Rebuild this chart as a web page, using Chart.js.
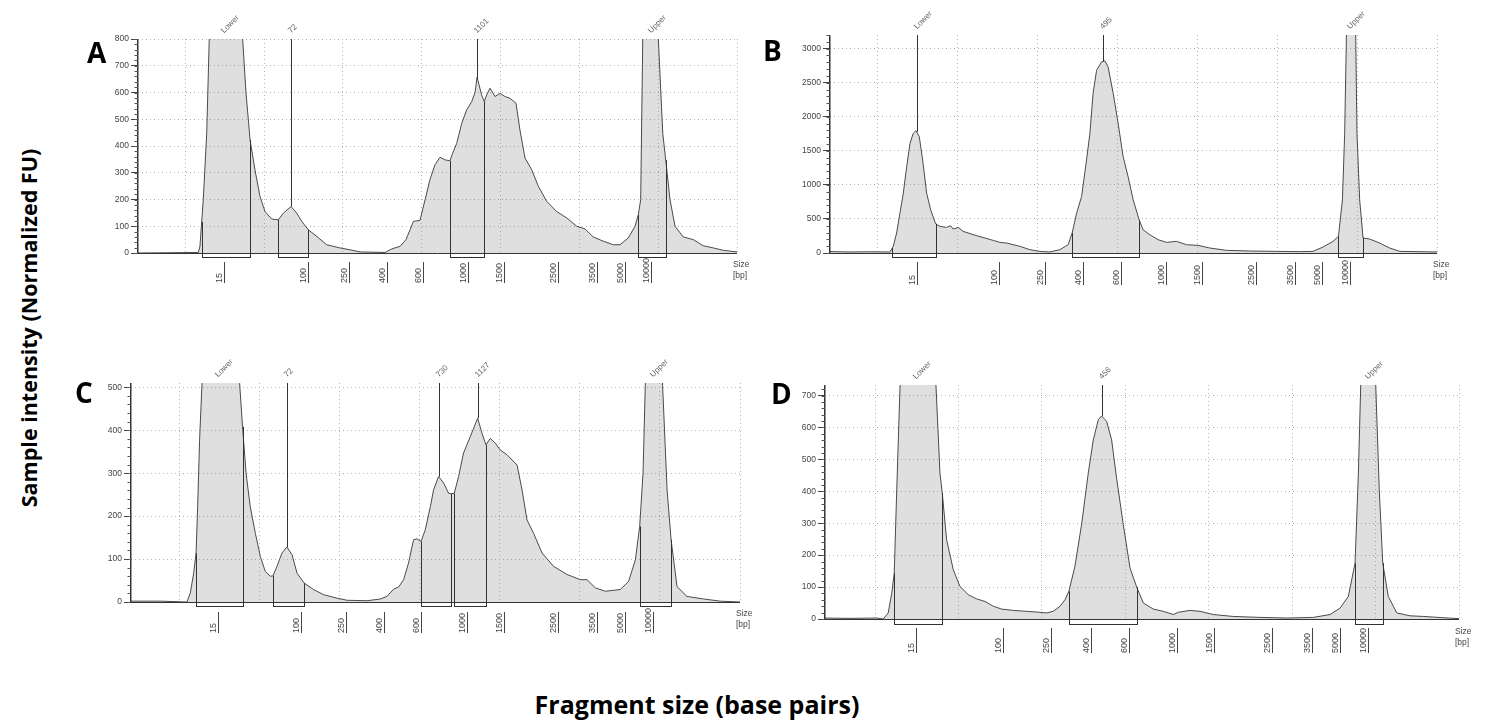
<!DOCTYPE html>
<html><head><meta charset="utf-8">
<script src="https://cdn.jsdelivr.net/npm/chart.js@4.4.0/dist/chart.umd.min.js"></script>
<style>
html,body{margin:0;padding:0;background:#fff}
body{width:1485px;height:722px;position:relative;overflow:hidden}
canvas{position:absolute}
.t{position:absolute;font-family:'Open Sans',sans-serif;font-weight:700;color:#000;white-space:nowrap;line-height:30px}
.letter{font-size:28px}
.title{width:700px;text-align:center}
</style></head><body>
<script>
// ---------------- DATA (migration time in s, fluorescence in normalized FU) ----------------
const ladderLabels = ['15','100','250','400','600','1000','1500','2500','3500','5000','10000'];

// Panel A
const curveA = [[17.00,0],[19.03,1],[20.83,2],[20.93,25],[21.14,199],[21.36,448],[21.52,800],[21.76,1150],[22.58,1700],[23.34,1100],[23.64,800],[23.85,600],[24.11,423],[24.42,311],[24.74,211],[25.06,155],[25.48,127],[25.90,124],[26.22,149],[26.71,174],[27.07,149],[27.39,118],[27.80,87],[28.34,62],[28.97,31],[29.81,19],[30.45,12],[31.08,4],[32.67,2],[33.09,15],[33.62,25],[34.00,50],[34.26,87],[34.47,118],[34.89,122],[35.21,199],[35.52,274],[35.84,330],[36.16,358],[36.48,348],[36.79,345],[36.96,373],[37.22,410],[37.54,485],[37.85,535],[38.17,566],[38.38,600],[38.51,657],[38.80,591],[38.97,566],[39.12,591],[39.33,616],[39.65,585],[39.97,597],[40.28,585],[40.60,578],[40.98,560],[41.23,460],[41.55,355],[41.98,311],[42.40,249],[42.93,193],[43.56,155],[44.20,131],[44.83,100],[45.36,90],[45.88,60],[46.52,44],[47.15,31],[47.58,31],[48.10,56],[48.53,100],[48.74,143],[48.89,199],[49.02,800],[49.16,1300],[49.48,1900],[49.80,1400],[50.01,800],[50.29,448],[50.50,336],[50.75,199],[51.07,100],[51.59,60],[52.23,50],[52.86,27],[53.50,19],[54.13,10],[55.00,4]];
const ladderA = [22.46,27.80,30.40,32.78,35.10,37.95,40.24,43.63,46.10,47.90,49.54];
const peakTimeA = [22.46,26.71,38.49,49.54];
const peakLabelA = ['Lower','72','1101','Upper'];
const regionsA = [[21.04,24.11],[25.90,27.80],[36.79,38.97],[48.74,50.48]];
const yTicksA = [0,100,200,300,400,500,600,700,800];

// Panel B
const curveB = [[17.00,20],[18.25,15],[19.50,18],[20.75,15],[20.96,98],[21.17,293],[21.38,585],[21.59,878],[21.80,1268],[22.01,1610],[22.21,1756],[22.38,1795],[22.59,1707],[22.80,1366],[23.05,878],[23.30,634],[23.61,429],[23.88,390],[24.30,376],[24.55,400],[24.71,351],[25.03,376],[25.34,317],[26.18,254],[27.22,185],[27.64,156],[28.06,146],[28.89,98],[29.51,49],[30.14,24],[30.77,15],[31.39,49],[31.91,122],[32.16,293],[32.44,585],[32.75,829],[33.06,1366],[33.27,1756],[33.47,2341],[33.69,2683],[34.00,2805],[34.21,2820],[34.41,2732],[34.73,2341],[35.04,1902],[35.35,1415],[35.66,1122],[35.98,780],[36.35,488],[36.60,341],[37.02,268],[37.54,195],[38.07,156],[38.69,171],[39.32,122],[40.04,112],[40.78,73],[41.82,39],[43.28,29],[44.95,24],[46.41,20],[47.24,24],[47.87,88],[48.49,171],[48.83,244],[49.08,780],[49.22,1756],[49.33,3200],[49.60,4200],[49.91,3200],[49.99,1756],[50.16,780],[50.37,220],[50.79,205],[51.41,146],[52.04,73],[52.67,24],[55.00,15]];
const ladderB = [22.42,27.59,30.45,32.85,35.21,38.02,40.26,43.70,46.10,47.83,49.54];
const peakTimeB = [22.42,34.10,49.54];
const peakLabelB = ['Lower','495','Upper'];
const regionsB = [[20.90,23.61],[32.16,36.35],[48.83,50.37]];
const yTicksB = [0,500,1000,1500,2000,2500,3000];

// Panel C
const curveC = [[17.00,2],[18.83,2],[20.49,0],[20.70,21],[20.91,67],[21.06,114],[21.16,222],[21.28,377],[21.43,508],[21.64,800],[22.57,1400],[23.51,800],[23.78,508],[23.96,408],[24.18,300],[24.44,222],[24.76,160],[25.07,106],[25.38,71],[25.69,60],[25.86,61],[26.11,83],[26.42,114],[26.73,128],[27.05,110],[27.36,67],[27.81,44],[28.39,29],[29.02,17],[29.85,9],[30.48,4],[31.73,3],[32.56,7],[32.97,13],[33.39,30],[33.70,35],[34.01,52],[34.32,91],[34.63,145],[34.85,147],[35.10,141],[35.36,168],[35.68,222],[35.88,261],[36.19,292],[36.51,277],[36.82,253],[36.97,252],[37.17,253],[37.44,292],[37.75,347],[38.17,385],[38.63,428],[38.90,393],[39.15,366],[39.42,381],[39.73,370],[40.04,354],[40.46,343],[41.09,319],[41.40,261],[41.71,191],[42.12,160],[42.65,114],[43.37,83],[44.21,64],[45.04,52],[45.45,52],[45.97,33],[46.60,25],[47.53,29],[48.05,48],[48.47,98],[48.74,176],[48.95,300],[49.09,505],[49.28,800],[49.65,1000],[50.03,700],[50.17,505],[50.45,261],[50.70,145],[51.07,36],[51.69,13],[52.73,7],[53.77,2],[55.00,0]];
const ladderC = [22.43,27.61,30.42,32.76,35.10,37.97,40.25,43.64,46.08,47.84,49.55];
const peakTimeC = [22.43,26.73,36.19,38.63,49.55];
const peakLabelC = ['Lower','72','730','1127','Upper'];
const regionsC = [[21.06,23.96],[25.84,27.81],[35.10,36.97],[37.13,39.15],[48.74,50.70]];
const yTicksC = [0,100,200,300,400,500];

// Panel D
const curveD = [[17.00,3],[18.50,2],[20.10,3],[20.49,0],[20.79,19],[21.00,81],[21.15,144],[21.30,405],[21.50,733],[21.80,1300],[22.57,2000],[23.29,1200],[23.65,733],[23.89,457],[24.03,394],[24.29,248],[24.69,154],[25.09,102],[25.59,76],[26.09,63],[26.59,55],[27.09,40],[27.59,31],[28.29,27],[29.09,24],[29.89,21],[30.29,19],[30.68,24],[31.09,40],[31.39,61],[31.62,87],[31.98,165],[32.39,300],[32.78,457],[33.08,561],[33.38,624],[33.58,636],[33.88,619],[34.18,561],[34.48,440],[34.88,295],[35.28,160],[35.68,100],[36.08,50],[36.68,31],[37.28,24],[37.88,14],[38.18,21],[38.88,27],[39.48,24],[40.27,14],[41.47,8],[43.07,5],[44.67,3],[46.27,5],[47.27,14],[47.87,34],[48.37,71],[48.77,175],[48.97,457],[49.11,733],[49.55,1200],[50.01,733],[50.22,405],[50.43,175],[50.76,71],[51.27,19],[52.06,10],[52.86,8],[55.00,1]];
const ladderD = [22.45,27.69,30.55,32.94,35.21,38.08,40.33,43.77,46.21,47.87,49.56];
const peakTimeD = [22.45,33.58,49.56];
const peakLabelD = ['Lower','456','Upper'];
const regionsD = [[21.15,24.03],[31.62,35.68],[48.77,50.43]];
const yTicksD = [0,100,200,300,400,500,600,700];

const xGridTimes = [20,25,30,35,40,45,50,55];

// ---------------- LAYOUT ----------------
const panels = [
  {name:'A', curve:curveA, ladder:ladderA, peaks:peakTimeA, peakLabels:peakLabelA, regions:regionsA, yTicks:yTicksA, ymax:800, minor:20,
   L:138, R:737, T:39, B:253, boxH:4, lt0:9, lt1:30, sz:7},
  {name:'B', curve:curveB, ladder:ladderB, peaks:peakTimeB, peakLabels:peakLabelB, regions:regionsB, yTicks:yTicksB, ymax:3200, minor:100,
   L:830, R:1437, T:35, B:253, boxH:4, lt0:9, lt1:32, sz:7},
  {name:'C', curve:curveC, ladder:ladderC, peaks:peakTimeC, peakLabels:peakLabelC, regions:regionsC, yTicks:yTicksC, ymax:510, minor:20,
   L:131, R:740, T:383, B:602, boxH:4, lt0:10, lt1:31, sz:7},
  {name:'D', curve:curveD, ladder:ladderD, peaks:peakTimeD, peakLabels:peakLabelD, regions:regionsD, yTicks:yTicksD, ymax:733, minor:20,
   L:825, R:1459, T:385, B:619, boxH:5, lt0:9, lt1:34, sz:8}
];

function interp(pts, t){
  if (t <= pts[0][0]) return pts[0][1];
  for (let i=1;i<pts.length;i++){
    if (t <= pts[i][0]){
      const [t0,v0]=pts[i-1],[t1,v1]=pts[i];
      return v0+(v1-v0)*(t-t0)/(t1-t0);
    }
  }
  return pts[pts.length-1][1];
}

function bioPlugin(p){
  return {
    id:'bio'+p.name,
    afterDatasetsDraw(chart){
      const ctx=chart.ctx, a=chart.chartArea, x=chart.scales.x, y=chart.scales.y;
      ctx.save();
      ctx.strokeStyle='#333'; ctx.lineWidth=1;
      ctx.beginPath(); ctx.moveTo(a.left, a.bottom+0.5); ctx.lineTo(a.right, a.bottom+0.5); ctx.stroke();
      ctx.lineWidth=1.5;
      ctx.beginPath(); ctx.moveTo(a.left-0.25, a.top); ctx.lineTo(a.left-0.25, a.bottom+1); ctx.stroke();
      ctx.lineWidth=1; ctx.strokeStyle='#555';
      const n=Math.floor(p.ymax/p.minor);
      for(let k=0;k<=n;k++){
        const yy=Math.round(y.getPixelForValue(k*p.minor))+0.5;
        ctx.beginPath(); ctx.moveTo(a.left-3.5, yy); ctx.lineTo(a.left, yy); ctx.stroke();
      }
      ctx.strokeStyle='#333'; ctx.lineWidth=1;
      p.regions.forEach(([s0,s1])=>{
        const x0=Math.round(x.getPixelForValue(s0))+0.5, x1=Math.round(x.getPixelForValue(s1))+0.5;
        ctx.strokeRect(x0, a.bottom+0.5, x1-x0, p.boxH);
        [[x0,s0],[x1,s1]].forEach(([xx,s])=>{
          const yv=Math.max(a.top, y.getPixelForValue(interp(p.curve,s)));
          ctx.beginPath(); ctx.moveTo(xx, a.bottom); ctx.lineTo(xx, yv); ctx.stroke();
        });
      });
      ctx.font='8px "Liberation Sans", Arial, sans-serif';
      ctx.fillStyle='#666'; ctx.textAlign='left'; ctx.textBaseline='middle';
      p.peaks.forEach((t,i)=>{
        const xx=Math.round(x.getPixelForValue(t))+0.5;
        const yv=Math.max(a.top, y.getPixelForValue(interp(p.curve,t)));
        if (yv>a.top+0.5){
          ctx.strokeStyle='#333';
          ctx.beginPath(); ctx.moveTo(xx, a.top); ctx.lineTo(xx, yv); ctx.stroke();
        }
        ctx.save(); ctx.translate(xx-2, a.top-7); ctx.rotate(-Math.PI/4);
        ctx.fillText(p.peakLabels[i], 0, 0); ctx.restore();
      });
      ctx.font='9px "Liberation Sans", Arial, sans-serif';
      ctx.fillStyle='#444'; ctx.strokeStyle='#444';
      p.ladder.forEach((t,i)=>{
        const xx=Math.round(x.getPixelForValue(t))+0.5;
        ctx.beginPath(); ctx.moveTo(xx, a.bottom+p.lt0); ctx.lineTo(xx, a.bottom+p.lt1); ctx.stroke();
        ctx.save(); ctx.translate(xx-4.5, a.bottom+p.lt1); ctx.rotate(-Math.PI/2);
        ctx.textAlign='left'; ctx.textBaseline='middle';
        ctx.fillText(ladderLabels[i], 0, 0); ctx.restore();
      });
      ctx.font='8.5px "Liberation Sans", Arial, sans-serif';
      ctx.textAlign='left'; ctx.textBaseline='top';
      ctx.fillText('Size', a.right-4, a.bottom+p.sz);
      ctx.fillText('[bp]', a.right-4, a.bottom+p.sz+11);
      ctx.restore();
    }
  };
}

const padL=60, padT=40, padR=45, padB=50;
panels.forEach(p=>{
  const cv=document.createElement('canvas');
  const w=p.R-p.L+padL+padR, h=p.B-p.T+padT+padB;
  cv.width=w; cv.height=h;
  cv.style.left=(p.L-padL)+'px'; cv.style.top=(p.T-padT)+'px';
  cv.style.width=w+'px'; cv.style.height=h+'px';
  document.body.appendChild(cv);
  new Chart(cv,{
    type:'line',
    data:{datasets:[{
      data:p.curve.map(([t,v])=>({x:t,y:v})),
      borderColor:'#4a4a4a', borderWidth:1,
      backgroundColor:'rgba(128,128,128,0.25)', fill:'origin',
      pointRadius:0, tension:0
    }]},
    options:{
      responsive:false, animation:false, devicePixelRatio:1,
      layout:{padding:{left:0,top:padT,right:padR,bottom:0}},
      plugins:{legend:{display:false},tooltip:{enabled:false}},
      scales:{
        x:{type:'linear', min:17, max:55,
           afterBuildTicks:s=>{s.ticks=xGridTimes.map(v=>({value:v}));},
           afterFit:s=>{s.height=padB;},
           ticks:{display:false},
           grid:{color:'#b4b4b4', lineWidth:1, drawTicks:false},
           border:{display:false, dash:[1,3]}},
        y:{type:'linear', min:0, max:p.ymax,
           afterBuildTicks:s=>{s.ticks=p.yTicks.map(v=>({value:v}));},
           afterFit:s=>{s.width=padL;},
           ticks:{font:{family:'"Liberation Sans", Arial, sans-serif', size:8.5}, color:'#444', padding:2,
                  callback:v=>String(v)},
           grid:{color:'#b4b4b4', lineWidth:1, drawTicks:true, tickLength:7, tickColor:'#444', tickBorderDash:[]},
           border:{display:false, dash:[1,3]}}
      }
    },
    plugins:[bioPlugin(p)]
  });
});
</script>
<div class="t letter" style="left:87px;top:37px">A</div>
<div class="t letter" style="left:763px;top:35px">B</div>
<div class="t letter" style="left:75px;top:377px">C</div>
<div class="t letter" style="left:771px;top:378px">D</div>
<div class="t title" style="left:-321px;top:313px;font-size:21.5px;transform:rotate(-90deg)">Sample intensity (Normalized FU)</div>
<div class="t title" style="left:347px;top:689px;font-size:25px">Fragment size (base pairs)</div>
</body></html>
